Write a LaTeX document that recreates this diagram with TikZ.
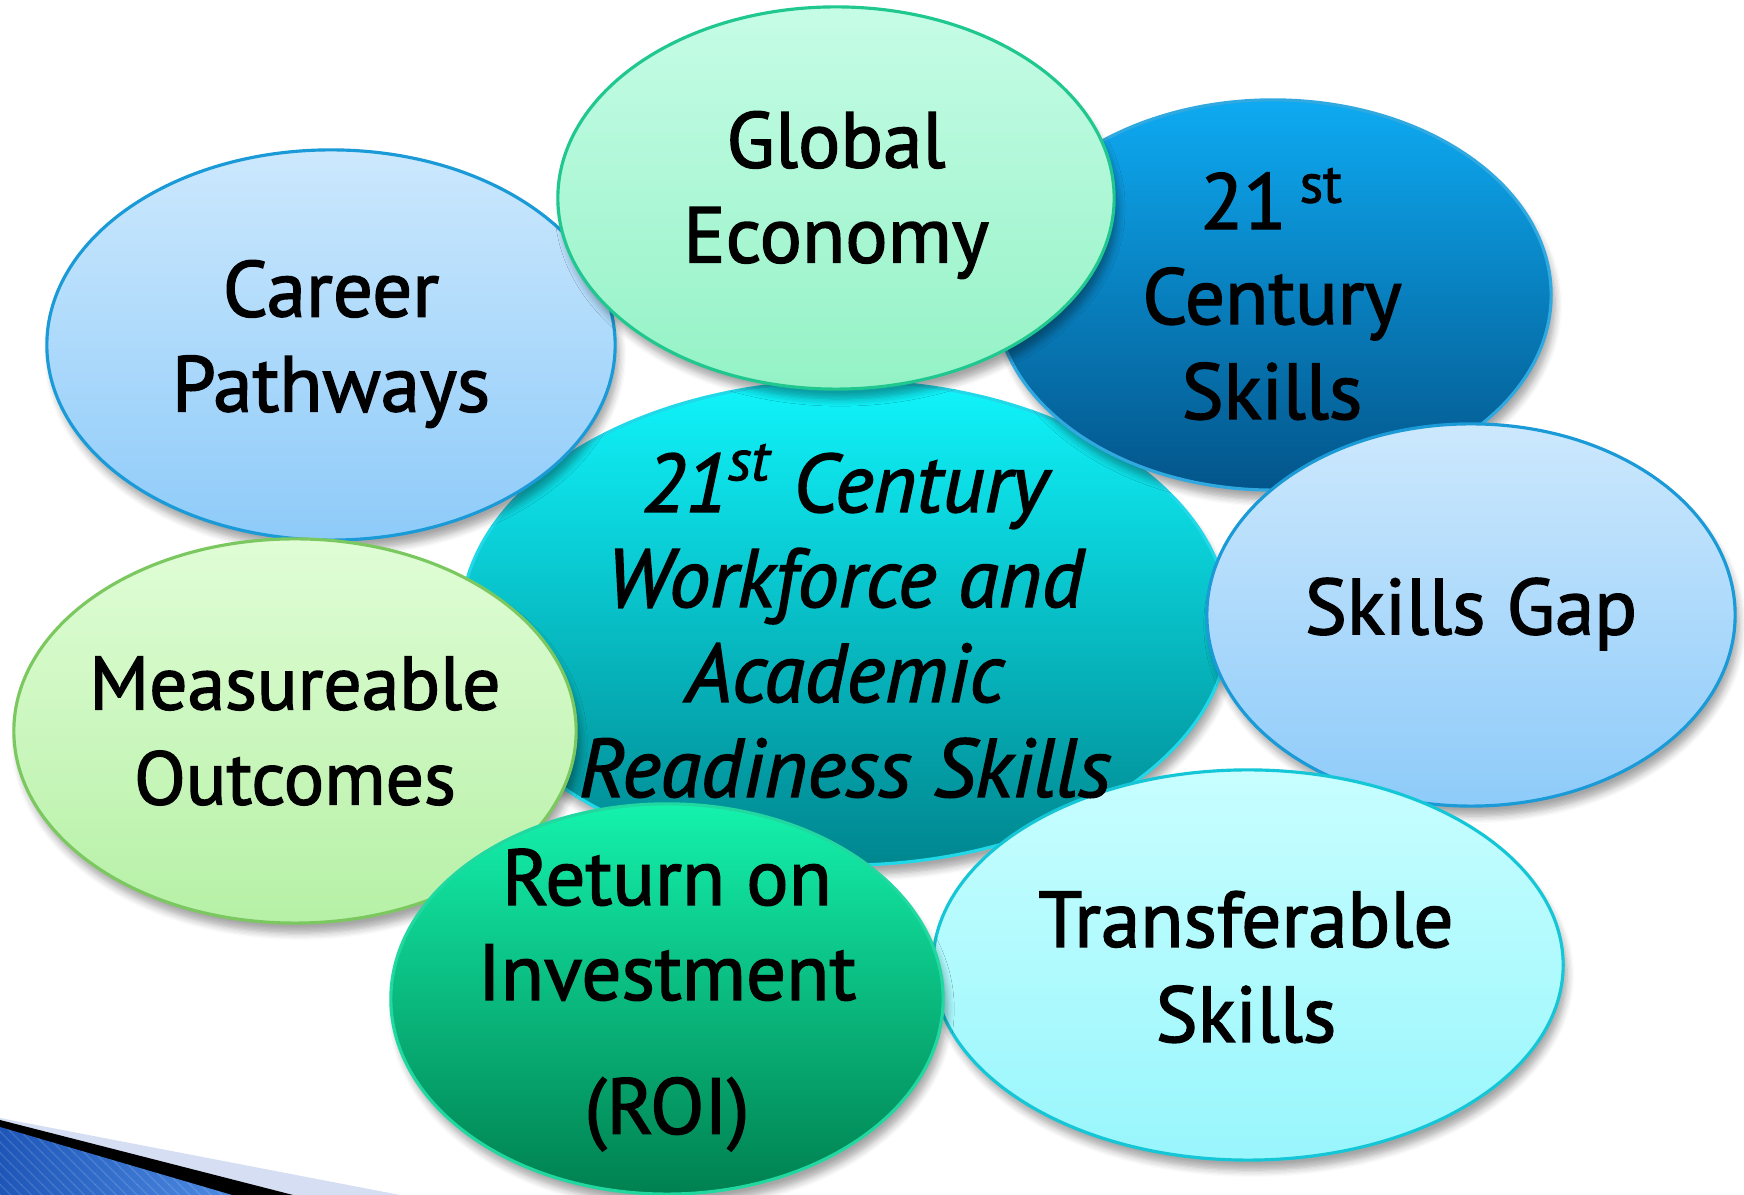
\documentclass[tikz,border=0pt]{standalone}
\usepackage{fontspec}
\setmainfont{PT Sans}[FakeBold=1.8]
\usetikzlibrary{shapes.geometric, shadows.blur, patterns}

\definecolor{pathtop}{HTML}{CCE8FD}
\definecolor{pathbot}{HTML}{8ECBF9}
\definecolor{pathline}{HTML}{1A9AD6}
\definecolor{globtop}{HTML}{C6FCE6}
\definecolor{globbot}{HTML}{94F2C6}
\definecolor{globline}{HTML}{20C890}
\definecolor{centtop}{HTML}{0EAAF2}
\definecolor{centbot}{HTML}{03558A}
\definecolor{centline}{HTML}{30A8E0}
\definecolor{coretop}{HTML}{10F4FB}
\definecolor{corebot}{HTML}{00868F}
\definecolor{coreline}{HTML}{20D8E8}
\definecolor{meastop}{HTML}{E0FDD6}
\definecolor{measbot}{HTML}{B6F0A6}
\definecolor{measline}{HTML}{7CC860}
\definecolor{roitop}{HTML}{14F2AC}
\definecolor{roibot}{HTML}{008050}
\definecolor{roiline}{HTML}{20D8A0}
\definecolor{transtop}{HTML}{C8FEFF}
\definecolor{transbot}{HTML}{98F6FC}
\definecolor{transline}{HTML}{14C6D6}
\definecolor{ribbon}{HTML}{D5DEF2}
\definecolor{ribbonleft}{HTML}{1E56B8}
\definecolor{ribbonright}{HTML}{4C8AE2}

\tikzset{
  bubble/.style={ellipse, inner sep=0pt, line width=0.9pt, draw=#1line,
    top color=#1top, bottom color=#1bot,
    blur shadow={shadow xshift=0.4mm, shadow yshift=-1mm, shadow opacity=35, shadow blur steps=6}},
  txt/.style={align=center, font=\fontsize{22.5}{27}\selectfont},
}

\begin{document}
\begin{tikzpicture}[x=0.01cm, y=-0.01cm]
\useasboundingbox (0,0) rectangle (1744,1195);

% corner ribbon
\fill[ribbon] (0,1118) -- (400,1195) -- (0,1195) -- cycle;
\fill[black] (0,1120) -- (293,1195) -- (0,1195) -- cycle;
\shade[left color=ribbonleft, right color=ribbonright] (0,1127) -- (232,1195) -- (0,1195) -- cycle;
\fill[pattern=north west lines, pattern color=white, opacity=0.12] (0,1127) -- (232,1195) -- (0,1195) -- cycle;

% bubbles, back to front
\node[bubble=core, minimum width=7.68cm, minimum height=4.84cm] (core) at (845,623) {};
\node[bubble=cent, minimum width=5.56cm, minimum height=3.9cm] (century) at (1273,295) {};
\node[bubble=path, minimum width=5.28cm, minimum height=3.82cm] (gap) at (1471,615) {};
\node[bubble=trans, minimum width=6.3cm, minimum height=3.9cm] (transfer) at (1248,965) {};
\node[bubble=path, minimum width=5.68cm, minimum height=3.9cm] (career) at (331,345) {};
\node[bubble=glob, minimum width=5.56cm, minimum height=3.82cm] (global) at (836,198) {};
\node[bubble=meas, minimum width=5.62cm, minimum height=3.84cm] (measure) at (295,731) {};
\node[bubble=roi, minimum width=5.52cm, minimum height=3.9cm] (roi) at (667,999) {};

% labels
\node[txt, font=\fontsize{23.5}{27}\selectfont\itshape] (coretxt) at (845,621)
  {21\textsuperscript{st} Century\\Workforce and\\Academic\\Readiness Skills};
\node[txt] (centurytxt) at (1272,294) {21\,\textsuperscript{st}\\Century\\Skills};
\node[txt] (gaptxt) at (1471,614) {Skills Gap};
\node[txt] (transfertxt) at (1246,967) {Transferable\\Skills};
\node[txt] (careertxt) at (331,344) {Career\\Pathways};
\node[txt] (globaltxt) at (836,195) {Global\\Economy};
\node[txt, font=\fontsize{21.5}{27}\selectfont] (measuretxt) at (295,731) {Measureable\\Outcomes};
\node[txt] (roitxt) at (667,1000) {Return on\\Investment\\[3.9mm](ROI)};
\end{tikzpicture}
\end{document}
